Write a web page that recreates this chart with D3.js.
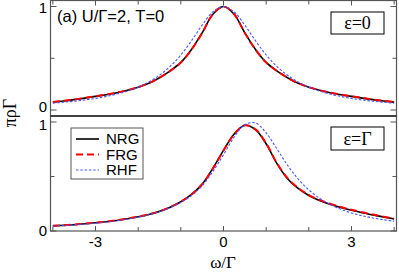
<!DOCTYPE html>
<html><head><meta charset="utf-8">
<script src="https://cdn.jsdelivr.net/npm/d3@7"></script>
<style>body{margin:0;background:#fff}svg{display:block}</style>
</head><body>
<svg id="c" width="399" height="276"></svg>
<script>
const omega = [-4,-3.75,-3.5,-3.25,-3,-2.75,-2.5,-2.25,-2,-1.75,-1.5,-1.25,-1,-0.75,-0.5,-0.25,0,0.25,0.5,0.75,1,1.25,1.5,1.75,2,2.25,2.5,2.75,3,3.25,3.5,3.75,4];
// panel (a) top: eps = 0
const nrgTop = [0.076,0.087,0.100,0.115,0.132,0.148,0.167,0.190,0.220,0.258,0.312,0.378,0.460,0.585,0.745,0.925,1.0,0.925,0.745,0.585,0.460,0.378,0.312,0.258,0.220,0.190,0.167,0.148,0.132,0.115,0.100,0.087,0.076];
const frgTop = [0.078,0.089,0.102,0.117,0.133,0.149,0.168,0.191,0.221,0.259,0.312,0.377,0.458,0.583,0.744,0.925,1.0,0.925,0.744,0.583,0.458,0.377,0.312,0.259,0.221,0.191,0.168,0.149,0.133,0.117,0.102,0.089,0.078];
const rhfTop = [0.066,0.075,0.085,0.097,0.112,0.131,0.154,0.183,0.221,0.271,0.336,0.421,0.532,0.669,0.820,0.948,1.0,0.948,0.820,0.669,0.532,0.421,0.336,0.271,0.221,0.183,0.154,0.131,0.112,0.097,0.085,0.075,0.066];
// lower: eps = Gamma
const nrgBot = [0.047,0.052,0.058,0.066,0.075,0.085,0.097,0.112,0.130,0.152,0.180,0.218,0.268,0.335,0.430,0.575,0.740,0.890,0.970,0.930,0.800,0.620,0.480,0.390,0.325,0.280,0.245,0.215,0.190,0.168,0.148,0.128,0.110];
const frgBot = [0.048,0.053,0.059,0.067,0.076,0.086,0.098,0.113,0.131,0.153,0.181,0.219,0.268,0.334,0.428,0.572,0.738,0.888,0.970,0.932,0.803,0.624,0.485,0.395,0.330,0.285,0.250,0.220,0.195,0.172,0.152,0.132,0.114];
const rhfBot = [0.045,0.050,0.056,0.063,0.072,0.082,0.094,0.109,0.127,0.150,0.178,0.214,0.262,0.325,0.415,0.545,0.700,0.862,0.975,0.991,0.900,0.754,0.604,0.477,0.377,0.301,0.244,0.200,0.166,0.140,0.120,0.103,0.089];
const xTickLabels = ["-3","0","3"];
const xTickLabelVals = [-3,0,3];
const xTicks = [-4,-3,-2,-1,0,1,2,3,4];
const yTicks = [0,0.5,1];
const yTickLabels = ["0","1"];
const legendNames = ["NRG","FRG","RHF"];
const panelLabels = ["ε=0","ε=Γ"];

const svg = d3.select("#c");
const L = 50.5, R = 396.5;
const x = d3.scaleLinear().domain([-4.055,4.055]).range([L,R]);
const yTop = d3.scaleLinear().domain([-0.058,1.058]).range([116,0.5]);
const yBot = d3.scaleLinear().domain([0,1.055]).range([231,116]);
const frame = "#555";

const styles = [
  {c:"#000", w:1.6, d:null},
  {c:"#f00", w:2, d:"7,4"},
  {c:"#4455ff", w:1.1, d:"2.5,1.8"}
];

function panel(y, series, topTicks, bottomTicks, top, bottom, labelShift) {
  const g = svg.append("g");
  const clipId = "clip" + Math.round(top);
  svg.append("clipPath").attr("id", clipId).append("rect")
    .attr("x", L).attr("y", top).attr("width", R-L).attr("height", bottom-top);
  series.forEach((s,i) => {
    const line = d3.line().x((d,j)=>x(omega[j])).y(d=>y(d)).curve(d3.curveCatmullRom);
    g.append("path").attr("d", line(s)).attr("fill","none")
      .attr("stroke", styles[i].c).attr("stroke-width", styles[i].w)
      .attr("stroke-dasharray", styles[i].d).attr("clip-path","url(#"+clipId+")");
  });
  yTicks.forEach(v => {
    const len = (v===0.5) ? 4 : 6;
    g.append("line").attr("x1",L).attr("x2",L+len).attr("y1",y(v)).attr("y2",y(v)).attr("stroke",frame).attr("stroke-width",1);
    g.append("line").attr("x1",R).attr("x2",R-len).attr("y1",y(v)).attr("y2",y(v)).attr("stroke",frame).attr("stroke-width",1);
  });
  yTickLabels.forEach(t => {
    g.append("text").attr("x",47).attr("y",y(+t) + labelShift[t]).attr("dy","0.36em")
      .attr("text-anchor","end").attr("font-family","Liberation Sans, Arial, sans-serif")
      .attr("font-size",15).text(t);
  });
  if (topTicks) xTicks.forEach(v => {
    const len = xTickLabelVals.includes(v) ? 5 : 4;
    g.append("line").attr("x1",x(v)).attr("x2",x(v)).attr("y1",top).attr("y2",top+len).attr("stroke",frame);
  });
  if (bottomTicks) xTicks.forEach(v => {
    const len = xTickLabelVals.includes(v) ? 5 : 4;
    g.append("line").attr("x1",x(v)).attr("x2",x(v)).attr("y1",bottom).attr("y2",bottom-len).attr("stroke",frame);
  });
  g.append("rect").attr("x",L).attr("y",top).attr("width",R-L).attr("height",bottom-top)
    .attr("fill","none").attr("stroke",frame).attr("stroke-width",1.2);
}

panel(yTop, [nrgTop, frgTop, rhfTop], true, false, 0.5, 116, {"0":-3, "1":1.5});
panel(yBot, [nrgBot, frgBot, rhfBot], false, true, 116, 231, {"0":0, "1":2.5});

svg.append("line").attr("x1",L).attr("x2",R).attr("y1",116).attr("y2",116).attr("stroke","#333").attr("stroke-width",1.4);

xTickLabels.forEach((t,i) => {
  svg.append("text").attr("x",x(xTickLabelVals[i])).attr("y",247)
    .attr("text-anchor","middle").attr("font-family","Liberation Sans, Arial, sans-serif")
    .attr("font-size",15).text(t);
});

svg.append("text").attr("x",223).attr("y",268).attr("text-anchor","middle")
  .attr("font-family","Liberation Serif, Times New Roman, serif").attr("font-size",17).text("ω/Γ");
svg.append("text").attr("transform","translate(16,113) rotate(-90)").attr("text-anchor","middle")
  .attr("font-family","Liberation Serif, Times New Roman, serif").attr("font-size",18).text("πρΓ");

svg.append("text").attr("x",57).attr("y",21.5)
  .attr("font-family","Liberation Sans, Arial, sans-serif").attr("font-size",16.5).text("(a) U/Γ=2, T=0");

[[12,34],[127,150]].forEach((b,i) => {
  svg.append("rect").attr("x",331).attr("y",b[0]).attr("width",53).attr("height",b[1]-b[0])
    .attr("fill","#fff").attr("stroke","#000").attr("stroke-width",1);
  svg.append("text").attr("x",357.5).attr("y",(b[0]+b[1])/2).attr("dy","0.34em").attr("text-anchor","middle")
    .attr("font-family","Liberation Serif, Times New Roman, serif").attr("font-size",18).text(panelLabels[i]);
});

svg.append("rect").attr("x",71).attr("y",128).attr("width",72).attr("height",51)
  .attr("fill","#fff").attr("stroke",frame).attr("stroke-width",1);
legendNames.forEach((n,i) => {
  const yy = 139 + i*15.5;
  svg.append("line").attr("x1",76).attr("x2",99).attr("y1",yy).attr("y2",yy)
    .attr("stroke",styles[i].c).attr("stroke-width",styles[i].w).attr("stroke-dasharray",styles[i].d);
  svg.append("text").attr("x",106).attr("y",yy).attr("dy","0.36em")
    .attr("font-family","Liberation Sans, Arial, sans-serif").attr("font-size",15).text(n);
});
</script>
</body></html>
